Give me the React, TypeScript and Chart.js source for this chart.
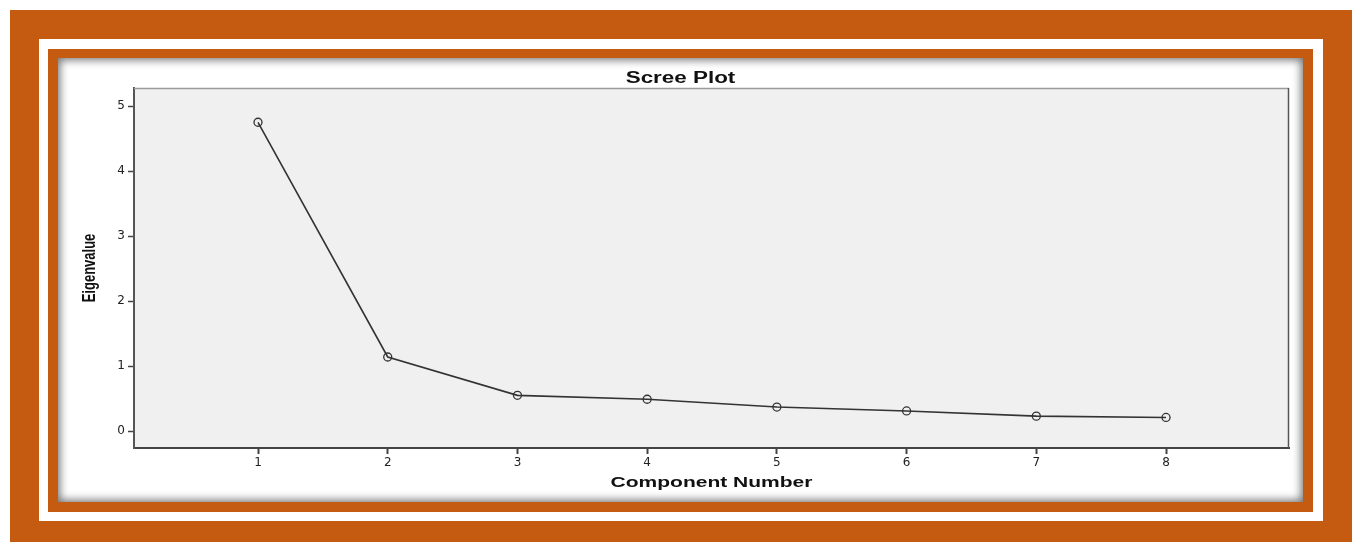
import React, { useEffect, useRef } from "react";
import { Chart, registerables } from "chart.js";

Chart.register(...registerables);

// ---- data ----
const components = [1, 2, 3, 4, 5, 6, 7, 8];
const eigenvalues = [4.75, 1.14, 0.55, 0.49, 0.37, 0.31, 0.23, 0.21];
const xTicks = [1, 2, 3, 4, 5, 6, 7, 8];
const yTicks = [0, 1, 2, 3, 4, 5];
const chartTitle = "Scree Plot";
const xTitle = "Component Number";
const yTitle = "Eigenvalue";

const ORANGE = "#c55a11";
const STRETCH = 1.4;

const framePlugin = {
  id: "spssFrame",
  beforeDraw(chart: any) {
    const { ctx, chartArea } = chart;
    const { left, top, right, bottom } = chartArea;
    ctx.save();
    ctx.fillStyle = "#f0f0f0";
    ctx.fillRect(left, top, right - left, bottom - top);
    ctx.restore();
  },
  afterDraw(chart: any) {
    const { ctx, chartArea, width } = chart;
    const { left, top, right, bottom } = chartArea;
    ctx.save();
    // top border
    ctx.strokeStyle = "#9a9a9a";
    ctx.lineWidth = 1.5;
    ctx.beginPath();
    ctx.moveTo(left, top + 0.5);
    ctx.lineTo(right, top + 0.5);
    ctx.stroke();
    // right border
    ctx.strokeStyle = "#555555";
    ctx.lineWidth = 1.5;
    ctx.beginPath();
    ctx.moveTo(right - 0.5, top);
    ctx.lineTo(right - 0.5, bottom);
    ctx.stroke();

    ctx.fillStyle = "#111111";
    ctx.textAlign = "center";
    ctx.textBaseline = "middle";

    // chart title
    ctx.save();
    ctx.font = "bold 16px 'Liberation Sans', Arial, sans-serif";
    ctx.translate(width / 2, 21);
    ctx.scale(STRETCH, 1);
    ctx.fillText(chartTitle, 0, 0);
    ctx.restore();

    // x title
    ctx.save();
    ctx.font = "bold 15px 'Liberation Sans', Arial, sans-serif";
    ctx.translate((left + right) / 2, 425);
    ctx.scale(STRETCH, 1);
    ctx.fillText(xTitle, 0, 0);
    ctx.restore();

    // y title
    ctx.save();
    ctx.font = "bold 13px 'Liberation Sans', Arial, sans-serif";
    ctx.translate(32, (top + bottom) / 2);
    ctx.rotate(-Math.PI / 2);
    ctx.scale(1, STRETCH);
    ctx.fillText(yTitle, 0, 0);
    ctx.restore();

    ctx.restore();
  },
};

export default function App() {
  const canvasRef = useRef<HTMLCanvasElement | null>(null);

  useEffect(() => {
    if (!canvasRef.current) return;
    const chart = new Chart(canvasRef.current, {
      type: "scatter",
      data: {
        datasets: [
          {
            data: components.map((c, i) => ({ x: c, y: eigenvalues[i] })),
            showLine: true,
            borderColor: "#333333",
            borderWidth: 1.6,
            pointRadius: 4,
            pointHoverRadius: 4,
            pointBorderWidth: 1.3,
            pointBorderColor: "#333333",
            pointBackgroundColor: "rgba(0,0,0,0)",
            pointStyle: "circle",
            tension: 0,
          },
        ],
      },
      options: {
        responsive: false,
        animation: false,
        devicePixelRatio: 1,
        layout: { padding: { top: 30, right: 14, left: 0, bottom: 0 } },
        plugins: {
          legend: { display: false },
          title: { display: false },
          tooltip: { enabled: false },
        },
        scales: {
          x: {
            type: "linear",
            min: 0.044,
            max: 8.948,
            afterBuildTicks: (scale: any) => {
              scale.ticks = xTicks.map((v) => ({ value: v }));
            },
            afterFit: (scale: any) => {
              scale.height = 54;
            },
            grid: {
              drawOnChartArea: false,
              drawTicks: true,
              tickLength: 6,
              tickWidth: 2,
              tickColor: "#444444",
            },
            border: { display: true, color: "#444444", width: 2 },
            ticks: {
              padding: 2,
              color: "#222222",
              font: { family: "'DejaVu Sans', sans-serif", size: 12 },
              maxRotation: 0,
            },
            title: { display: false },
          },
          y: {
            type: "linear",
            min: -0.26,
            max: 5.277,
            afterBuildTicks: (scale: any) => {
              scale.ticks = yTicks.map((v) => ({ value: v }));
            },
            afterFit: (scale: any) => {
              scale.width = 76;
            },
            grid: {
              drawOnChartArea: false,
              drawTicks: true,
              tickLength: 6,
              tickWidth: 1.5,
              tickColor: "#444444",
            },
            border: { display: true, color: "#555555", width: 2 },
            ticks: {
              padding: 3,
              color: "#222222",
              font: { family: "'DejaVu Sans', sans-serif", size: 12 },
            },
            title: { display: false },
          },
        },
      },
      plugins: [framePlugin],
    });
    return () => chart.destroy();
  }, []);

  return (
    <div
      style={{
        position: "fixed",
        left: 0,
        top: 0,
        width: 1357,
        height: 542,
        background: "#ffffff",
        overflow: "hidden",
      }}
    >
      <div style={{ position: "absolute", left: 10, top: 10, width: 1342, height: 532, background: ORANGE }} />
      <div style={{ position: "absolute", left: 39, top: 39, width: 1284, height: 482, background: "#ffffff" }} />
      <div style={{ position: "absolute", left: 48, top: 49, width: 1265, height: 463, background: ORANGE }} />
      <div
        style={{
          position: "absolute",
          left: 58,
          top: 58,
          width: 1245,
          height: 444,
          background: "#ffffff",
          boxShadow: "inset 0 0 9px 2px rgba(0,0,0,0.55)",
        }}
      >
        <canvas ref={canvasRef} width={1245} height={444} style={{ display: "block", width: 1245, height: 444 }} />
      </div>
    </div>
  );
}
